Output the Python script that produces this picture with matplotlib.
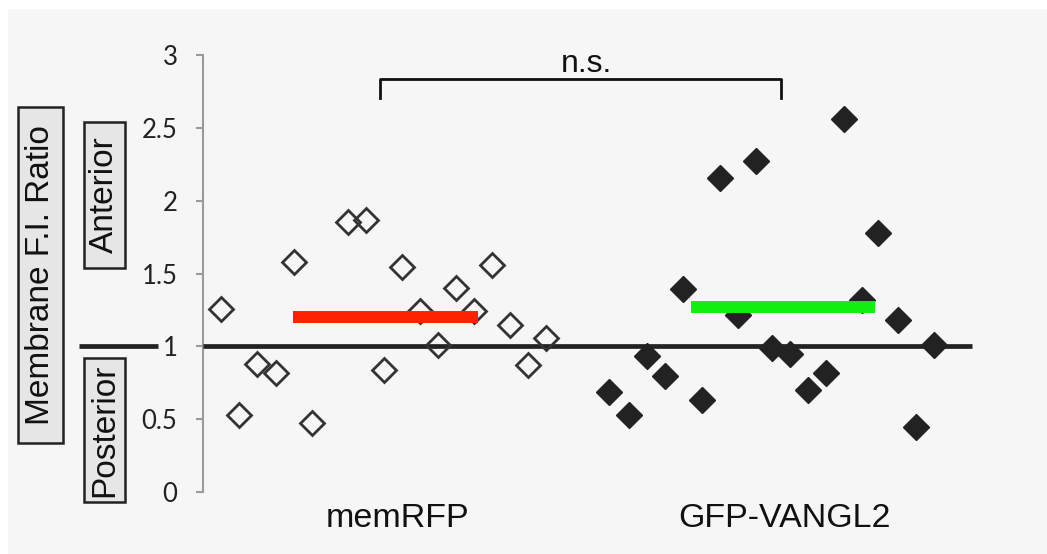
import matplotlib
matplotlib.use("Agg")
import matplotlib.pyplot as plt
from matplotlib.patches import Rectangle

# ------------------------------------------------------------
# Data (x = position index along the plot, y = F.I. ratio)
# ------------------------------------------------------------

mem_x = [1, 2, 3, 4, 5, 6, 8, 9, 10, 11, 12, 13, 14, 15, 16, 17, 18, 19]
mem_y = [1.26, 0.53, 0.88, 0.82, 1.58, 0.475, 1.85, 1.87, 0.84,
         1.545, 1.24, 1.01, 1.40, 1.24, 1.56, 1.15, 0.87, 1.06]

gfp_x = [22.5, 23.6, 24.6, 25.6, 26.6, 27.6, 28.6, 29.6, 30.6, 31.5,
         32.5, 33.5, 34.5, 35.5, 36.5, 37.4, 38.5, 39.5, 40.5]
gfp_y = [0.685, 0.532, 0.932, 0.80, 1.395, 0.63, 2.158, 1.213, 2.272, 0.99,
         0.95, 0.70, 0.82, 2.558, 1.315, 1.775, 1.18, 0.45, 1.007]

mem_mean = 1.20
gfp_mean = 1.27

group_labels = ["memRFP", "GFP-VANGL2"]
y_ticks = [0, 0.5, 1, 1.5, 2, 2.5, 3]
y_tick_labels = ["0", "0.5", "1", "1.5", "2", "2.5", "3"]

# ------------------------------------------------------------
# Figure
# ------------------------------------------------------------

W, H = 1047, 554
fig = plt.figure(figsize=(W / 100, H / 100), dpi=100)
fig.patch.set_facecolor("white")
fig.patches.append(Rectangle((8 / W, 0), 1 - 8 / W, 1 - 9 / H,
                             transform=fig.transFigure,
                             facecolor="#f6f6f6", edgecolor="none", zorder=-10))

ax = fig.add_axes([203.3 / W, (H - 492.3) / H, 776.2 / W, 437.6 / H])
ax.set_facecolor("none")
ax.set_xlim(0, 43)
ax.set_ylim(0, 3)

for s in ["top", "right", "bottom"]:
    ax.spines[s].set_visible(False)
ax.spines["left"].set_color("#9a9a9a")
ax.spines["left"].set_linewidth(1.5)

ax.set_xticks([])
ax.set_yticks(y_ticks)
ax.set_yticklabels(y_tick_labels, fontfamily="Lato", fontsize=18.5, color="#222222")
ax.tick_params(axis="y", direction="out", length=5, width=1.5,
               color="#9a9a9a", pad=13.5)

# reference line at 1 (inside and left of axis)
ax.plot([0, 42.6], [1, 1], color="#222222", lw=3.4, zorder=3,
        solid_capstyle="butt")
ax.plot([-6.87, -2.49], [1, 1], color="#222222", lw=3.4, clip_on=False,
        solid_capstyle="butt")

# points
ax.plot(mem_x, mem_y, linestyle="none", marker="D", markersize=12,
        markerfacecolor="none", markeredgecolor="#333333",
        markeredgewidth=2.0, zorder=4)
ax.plot(gfp_x, gfp_y, linestyle="none", marker="D", markersize=13,
        color="#222222", zorder=4)

# mean bars
ax.plot([4.95, 15.2], [mem_mean, mem_mean], color="#ff2200", lw=8.6,
        solid_capstyle="butt", zorder=5)
ax.plot([27.0, 37.2], [gfp_mean, gfp_mean], color="#10f010", lw=8.6,
        solid_capstyle="butt", zorder=5)

# significance bracket
ax.plot([9.77, 9.77, 32.0, 32.0], [2.70, 2.83, 2.83, 2.70],
        color="#111111", lw=2, clip_on=False)
ax.text(21.2, 2.88, "n.s.", ha="center", va="baseline",
        fontfamily="Liberation Sans", fontsize=23, color="#111111")

# group labels
ax.text(10.76, -0.236, group_labels[0], ha="center", va="baseline",
        fontfamily="Liberation Sans", fontsize=24.5, color="#111111",
        clip_on=False)
ax.text(32.19, -0.236, group_labels[1], ha="center", va="baseline",
        fontfamily="Liberation Sans", fontsize=24.5, color="#111111",
        clip_on=False)

# boxed y labels
boxes = [
    ("Membrane F.I. Ratio", -10.25, -7.78, 0.34, 2.64),
    ("Anterior", -6.61, -4.34, 1.54, 2.54),
    ("Posterior", -6.61, -4.34, -0.065, 0.92),
]
for text, x0, x1, y0, y1 in boxes:
    ax.add_patch(Rectangle((x0, y0), x1 - x0, y1 - y0, facecolor="#e6e6e6",
                           edgecolor="#222222", lw=1.8, clip_on=False))
    ax.text((x0 + x1) / 2, (y0 + y1) / 2, text, rotation=90,
            ha="center", va="center", fontfamily="Liberation Sans",
            fontsize=24, color="#111111", clip_on=False)

fig.savefig("out.png", dpi=100)
